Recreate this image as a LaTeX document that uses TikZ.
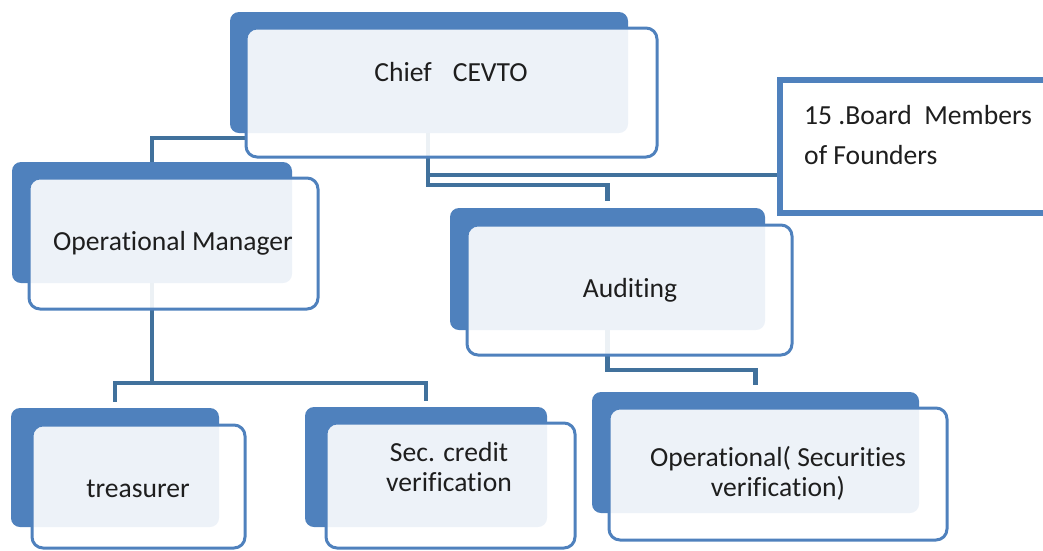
\documentclass[tikz,border=0pt]{standalone}
\usepackage{fontspec}
\setmainfont{Carlito}[Ligatures={NoCommon}]
\usetikzlibrary{backgrounds}
\definecolor{accent}{HTML}{4F81BD}
\definecolor{connc}{HTML}{41719C}
\definecolor{txt}{HTML}{1E1E1E}
\tikzset{
  backbox/.style={rectangle, rounded corners=9pt, fill=accent, draw=none, inner sep=0pt},
  frontbox/.style={rectangle, rounded corners=11pt, fill=white, fill opacity=0.9, draw=accent, line width=3pt, inner sep=0pt},
  lbl/.style={font=\fontsize{27.6}{30}\selectfont, text=txt, align=center, inner sep=0pt},
  conn/.style={draw=connc, line width=4.5pt},
  boardbox/.style={rectangle, draw=accent, fill=white, line width=6.5pt, inner sep=0pt}
}
\begin{document}
\begin{tikzpicture}[x=1pt,y=-1pt]
\useasboundingbox (0,0) rectangle (1043,550);
\clip (0,0) rectangle (1043,550);
% Chief
\node[backbox, minimum width=398pt, minimum height=121pt] (chiefback) at (429,72.5) {};
\node[frontbox, minimum width=411pt, minimum height=129pt] (chief) at (451.5,92.5) {};
\node[lbl] (chieftxt) at (451,72) {Chief\hspace{21pt}CEVTO};
% Board
\node[boardbox, minimum width=270pt, minimum height=133pt] (board) at (915,146.5) {};
\node[lbl, align=left, anchor=west, font=\fontsize{27.6}{40}\selectfont] (boardtxt) at (804,135) {15 .Board\ \ Members\\of Founders};
% Operational Manager
\node[backbox, minimum width=280pt, minimum height=121pt] (opmback) at (152,222.5) {};
\node[frontbox, minimum width=289pt, minimum height=131pt] (opm) at (173.5,243.5) {};
\node[lbl] (opmtxt) at (173,243) {Operational Manager};
% Auditing
\node[backbox, minimum width=315pt, minimum height=122pt] (audback) at (607.5,269) {};
\node[frontbox, minimum width=325pt, minimum height=130pt] (aud) at (629.5,290) {};
\node[lbl] (audtxt) at (630,290) {Auditing};
% treasurer
\node[backbox, minimum width=208pt, minimum height=119pt] (treasback) at (115,467.5) {};
\node[frontbox, minimum width=213pt, minimum height=123pt] (treas) at (138.5,486.5) {};
\node[lbl] (treastxt) at (138,489) {treasurer};
% Sec. credit verification
\node[backbox, minimum width=242pt, minimum height=120pt] (secback) at (426,467) {};
\node[frontbox, minimum width=249pt, minimum height=125pt] (sec) at (450.5,485.5) {};
\node[lbl] (sectxt) at (449,467) {Sec. credit\\verification};
% Operational (Securities verification)
\node[backbox, minimum width=327pt, minimum height=121pt] (opsback) at (755.5,452.5) {};
\node[frontbox, minimum width=338pt, minimum height=132pt] (ops) at (778,474) {};
\node[lbl] (opstxt) at (778,473) {Operational( Securities\\verification)};
% connectors
\coordinate (cj) at (428,175);
\begin{scope}[on background layer]
\draw[conn] (chief.west |- 0,138) -| (opmback.north);
\draw[conn, shorten >=7pt] (428,0 |- chiefback.south) -- (428,185) -| (audback.north);
\draw[conn] (cj) -- (board.west |- cj);
\draw[conn] (opmback.south) -- (opmback.south |- 0,383);
\draw[conn, shorten <=6pt, shorten >=6pt] (treasback.north) -- (treasback.north |- 0,383) -| (secback.north);
\draw[conn, shorten >=7pt] (audback.south) -- (audback.south |- 0,370) -| (opsback.north);
\end{scope}
\end{tikzpicture}
\end{document}
